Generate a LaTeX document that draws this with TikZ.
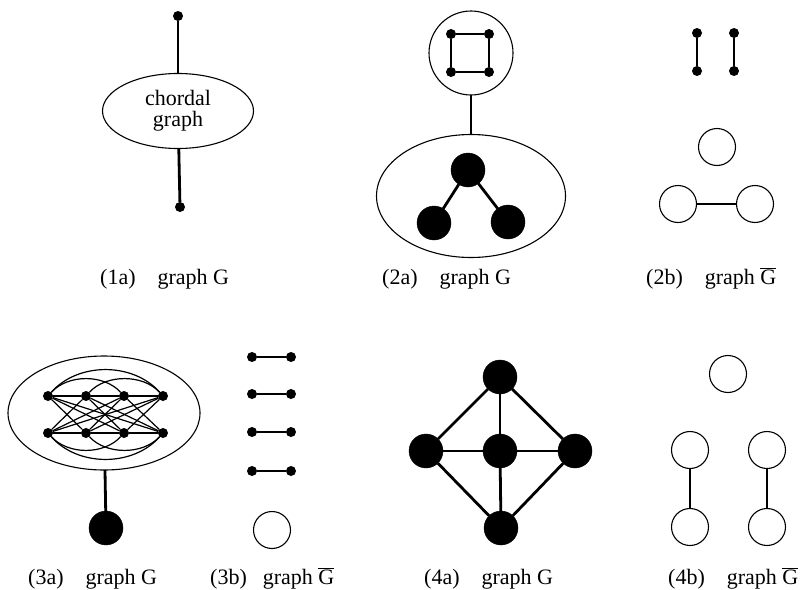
\documentclass[tikz,border=0pt]{standalone}
\usepackage{fontspec}
\setmainfont{Liberation Serif}
\usetikzlibrary{shapes.geometric}
\newcommand{\myGbar}{$\overline{\mbox{G}}$}
\begin{document}
\begin{tikzpicture}[x=1pt,y=-1pt,
  bigdot/.style={circle,fill=black,draw=black,minimum size=34pt,inner sep=0pt,outer sep=0pt},
  smalldot/.style={circle,fill=black,minimum size=10pt,inner sep=0pt,outer sep=0pt},
  opendot/.style={circle,draw=black,line width=1.1pt,fill=white,minimum size=37pt,inner sep=0pt,outer sep=0pt},
  blob/.style={ellipse,draw=black,line width=1.1pt,inner sep=0pt,outer sep=0pt},
  thickedge/.style={line width=2.8pt},
  thinedge/.style={line width=1.2pt},
  caption/.style={font=\fontsize{22}{24}\selectfont,inner sep=0pt,anchor=base west}
]
\useasboundingbox (0,0) rectangle (805,589);

% ---------- (1a)
\node[smalldot] (a1top) at (178,16) {};
\node[blob,minimum width=151pt,minimum height=75pt,align=center,
      font=\fontsize{22}{21}\selectfont] (a1ell) at (178,111) {chordal\\graph};
\node[smalldot] (a1bot) at (180,207) {};
\draw[thickedge] (a1top) -- (a1ell);
\draw[thickedge] (a1ell) -- (a1bot);
\node[caption] (cap1a) at (100,284) {(1a)\hspace{22pt}graph G};

% ---------- (2a)
\node[circle,draw=black,line width=1.1pt,minimum size=84pt,inner sep=0pt,outer sep=0pt] (a2circ) at (471,53) {};
\node[smalldot] (s1) at (451,34) {};
\node[smalldot] (s2) at (489,34) {};
\node[smalldot] (s3) at (489,72) {};
\node[smalldot] (s4) at (451,72) {};
\draw[thinedge] (s1) -- (s2);
\draw[thinedge] (s2) -- (s3);
\draw[thinedge] (s3) -- (s4);
\draw[thinedge] (s4) -- (s1);
\node[blob,minimum width=189pt,minimum height=123pt] (a2ell) at (471,196) {};
\draw[thickedge] (a2circ) -- (a2ell);
\node[bigdot] (k1) at (468,170) {};
\node[bigdot] (k2) at (434,223) {};
\node[bigdot] (k3) at (508,222) {};
\draw[thickedge] (k1) -- (k2);
\draw[thickedge] (k1) -- (k3);
\node[caption] (cap2a) at (382,284) {(2a)\hspace{22pt}graph G};

% ---------- (2b)
\node[smalldot] (p1) at (697,33) {};
\node[smalldot] (p2) at (697,71) {};
\node[smalldot] (p3) at (734,33) {};
\node[smalldot] (p4) at (734,71) {};
\draw[thinedge] (p1) -- (p2);
\draw[thinedge] (p3) -- (p4);
\node[opendot] (o1) at (717,147) {};
\node[opendot] (o2) at (678,204) {};
\node[opendot] (o3) at (755,204) {};
\draw[thickedge] (o2) -- (o3);
\node[caption] (cap2b) at (646,284) {(2b)\hspace{22pt}graph \myGbar};

% ---------- (3a)
\node[blob,minimum width=192pt,minimum height=114pt] (a3ell) at (104,413) {};
\node[smalldot] (t1) at (48,396) {};
\node[smalldot] (t2) at (86,396) {};
\node[smalldot] (t3) at (124,396) {};
\node[smalldot] (t4) at (163,396) {};
\node[smalldot] (b1) at (48,433) {};
\node[smalldot] (b2) at (86,433) {};
\node[smalldot] (b3) at (124,433) {};
\node[smalldot] (b4) at (163,433) {};
\draw[thinedge] (t1) -- (t2);
\draw[thinedge] (t2) -- (t3);
\draw[thinedge] (t3) -- (t4);
\draw[thinedge] (b1) -- (b2);
\draw[thinedge] (b2) -- (b3);
\draw[thinedge] (b3) -- (b4);
\draw[thinedge] (t1) .. controls (68,374) and (104,374) .. (t3);
\draw[thinedge] (t2) .. controls (106,374) and (143,374) .. (t4);
\draw[thinedge] (t1) .. controls (78,362) and (133,362) .. (t4);
\draw[thinedge] (b1) .. controls (68,455) and (104,455) .. (b3);
\draw[thinedge] (b2) .. controls (106,455) and (143,455) .. (b4);
\draw[thinedge] (b1) .. controls (78,467) and (133,467) .. (b4);
\foreach \i in {1,2,3,4}{
  \foreach \j in {1,2,3,4}{
    \ifnum\i=\j\else
      \draw[thinedge] (t\i) -- (b\j);
    \fi
  }
}
\node[bigdot] (a3blk) at (106,528) {};
\draw[thickedge] (a3ell) -- (a3blk);
\node[caption] (cap3a) at (28,584) {(3a)\hspace{22pt}graph G};

% ---------- (3b)
\foreach \k/\yy in {1/357,2/394,3/432,4/471}{
  \node[smalldot] (m\k l) at (252,\yy) {};
  \node[smalldot] (m\k r) at (291,\yy) {};
  \draw[thinedge] (m\k l) -- (m\k r);
}
\node[opendot] (a3open) at (272,530) {};
\node[caption] (cap3b) at (210,584) {(3b)\hspace{16pt}graph \myGbar};

% ---------- (4a)
\node[bigdot] (q1) at (500,377) {};
\node[bigdot] (q2) at (426,451) {};
\node[bigdot] (q3) at (500,451) {};
\node[bigdot] (q4) at (575,451) {};
\node[bigdot] (q5) at (501,528) {};
\draw[thickedge] (q1) -- (q2);
\draw[thickedge] (q1) -- (q3);
\draw[thickedge] (q1) -- (q4);
\draw[thickedge] (q2) -- (q3);
\draw[thickedge] (q3) -- (q4);
\draw[thickedge] (q2) -- (q5);
\draw[thickedge] (q3) -- (q5);
\draw[thickedge] (q4) -- (q5);
\node[caption] (cap4a) at (424,584) {(4a)\hspace{22pt}graph G};

% ---------- (4b)
\node[opendot] (r0) at (728,374) {};
\node[opendot] (r1) at (690,450) {};
\node[opendot] (r2) at (690,527) {};
\node[opendot] (r3) at (767,450) {};
\node[opendot] (r4) at (767,527) {};
\draw[thickedge] (r1) -- (r2);
\draw[thickedge] (r3) -- (r4);
\node[caption] (cap4b) at (668,584) {(4b)\hspace{22pt}graph \myGbar};
\end{tikzpicture}
\end{document}
